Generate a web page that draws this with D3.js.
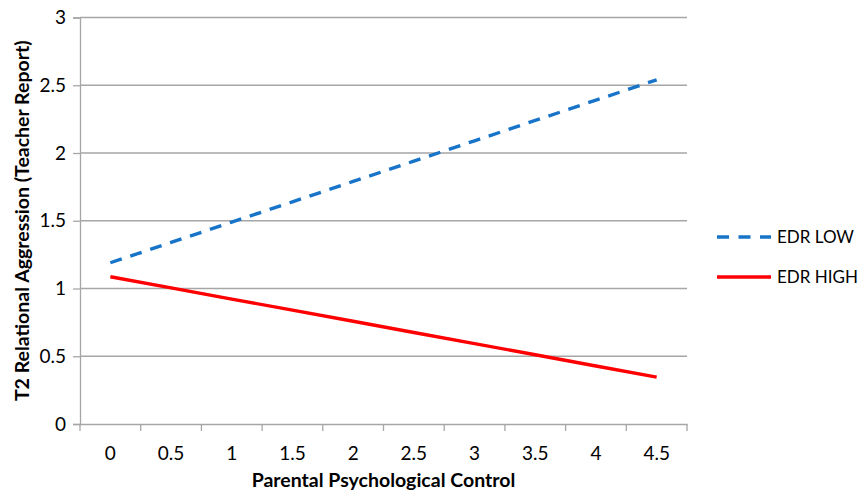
<!DOCTYPE html>
<html>
<head>
<meta charset="utf-8">
<script src="https://cdn.jsdelivr.net/npm/d3@7"></script>
<style>
body { margin: 0; background: #fff; }
text { font-family: Lato, "Open Sans", sans-serif; fill: #000; }
.grid line { stroke: #a6a6a6; stroke-width: 1.3; }
</style>
</head>
<body>
<script>
var width = 859;
var height = 491;

// data
var categories = ["0", "0.5", "1", "1.5", "2", "2.5", "3", "3.5", "4", "4.5"];
var edrLow = [1.19, 1.34, 1.49, 1.64, 1.79, 1.94, 2.09, 2.24, 2.39, 2.54];
var edrHigh = [1.087, 1.005, 0.922, 0.840, 0.758, 0.675, 0.593, 0.511, 0.428, 0.346];
var yTicks = [0, 0.5, 1, 1.5, 2, 2.5, 3];
var seriesNames = ["EDR LOW", "EDR HIGH"];

var plotLeft = 80, plotRight = 687, plotTop = 17.5, plotBottom = 424;

var svg = d3.select("body").append("svg")
    .attr("width", width)
    .attr("height", height);

var x = d3.scaleBand().domain(categories).range([plotLeft, plotRight]);
var y = d3.scaleLinear().domain([0, 3]).range([plotBottom, plotTop]);

// horizontal gridlines
svg.append("g").classed("grid", true)
    .selectAll("line").data(yTicks.slice(1)).enter().append("line")
    .attr("x1", plotLeft).attr("x2", plotRight)
    .attr("y1", function(d) { return y(d); })
    .attr("y2", function(d) { return y(d); });

// y axis
var yAxis = svg.append("g")
    .attr("transform", "translate(" + plotLeft + ",0)")
    .call(d3.axisLeft(y).tickValues(yTicks).tickSize(7).tickPadding(7)
        .tickFormat(function(d) { return d; }));

// x axis, ticks between categories like excel
var xAxis = svg.append("g")
    .attr("transform", "translate(0," + plotBottom + ")")
    .call(d3.axisBottom(x).tickSize(0).tickPadding(23));

xAxis.selectAll(".sep").data(categories).enter().append("line")
    .attr("x1", function(d) { return x(d) + x.bandwidth(); })
    .attr("x2", function(d) { return x(d) + x.bandwidth(); })
    .attr("y1", 0).attr("y2", 7);
xAxis.append("line").attr("x1", plotLeft).attr("x2", plotLeft).attr("y1", 0).attr("y2", 7);

[yAxis, xAxis].forEach(function(a) {
    a.select(".domain").attr("stroke", "#a6a6a6").attr("stroke-width", 1.3);
    a.selectAll("line").attr("stroke", "#a6a6a6").attr("stroke-width", 1.3);
    a.selectAll("text").style("font-size", "19px").style("font-family", "Lato, 'Open Sans', sans-serif").attr("fill", "#000");
});

var line = d3.line()
    .x(function(d, i) { return x(categories[i]) + x.bandwidth() / 2; })
    .y(function(d) { return y(d); });

svg.append("path").datum(edrHigh)
    .attr("d", line)
    .attr("fill", "none")
    .attr("stroke", "#ff0000")
    .attr("stroke-width", 3.4);

svg.append("path").datum(edrLow)
    .attr("d", line)
    .attr("fill", "none")
    .attr("stroke", "#1874c8")
    .attr("stroke-width", 3.4)
    .attr("stroke-dasharray", "12,9");

// axis titles
svg.append("text")
    .text("Parental Psychological Control")
    .attr("x", (plotLeft + plotRight) / 2)
    .attr("y", 487)
    .attr("text-anchor", "middle")
    .style("font-weight", "bold")
    .style("font-size", "19.5px");

svg.append("text")
    .text("T2 Relational Aggression (Teacher Report)")
    .attr("transform", "translate(29," + ((plotTop + plotBottom) / 2) + ") rotate(-90)")
    .attr("text-anchor", "middle")
    .style("font-weight", "bold")
    .style("font-size", "19.5px");

// legend
var legend = svg.selectAll(".legend").data(seriesNames).enter().append("g")
    .attr("transform", function(d, i) { return "translate(717," + (237 + i * 40) + ")"; });

legend.append("line")
    .attr("x1", 0).attr("x2", 54)
    .attr("stroke", function(d, i) { return i == 0 ? "#1874c8" : "#ff0000"; })
    .attr("stroke-width", 3.4)
    .attr("stroke-dasharray", function(d, i) { return i == 0 ? "12,9.5" : null; });

legend.append("text")
    .text(function(d) { return d; })
    .attr("x", 60)
    .attr("y", 6)
    .style("font-size", "17px");
</script>
</body>
</html>
